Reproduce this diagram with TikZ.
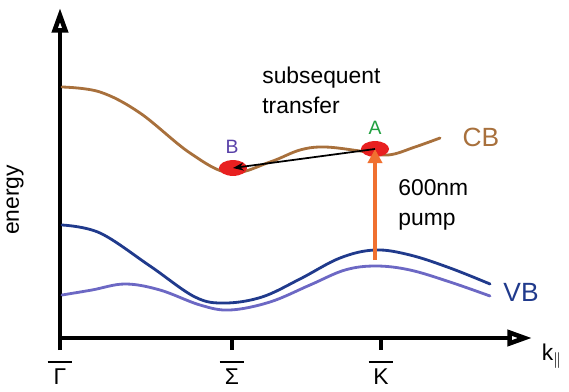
\documentclass[tikz,border=0pt]{standalone}
\usepackage{fontspec}
\setmainfont{Liberation Sans}
\usetikzlibrary{arrows.meta,positioning,shapes.geometric}

\definecolor{cbbrown}{RGB}{168,112,60}
\definecolor{vbdark}{RGB}{32,58,140}
\definecolor{vblight}{RGB}{108,104,196}
\definecolor{pumporange}{RGB}{240,112,48}
\definecolor{dotred}{RGB}{232,32,32}
\definecolor{lblgreen}{RGB}{32,160,64}
\definecolor{lblpurple}{RGB}{88,64,168}

\tikzset{
    axis/.style={line width=2.6pt,-{Triangle[length=14pt,width=9pt,open=false]}},
    band/.style={line width=1.6pt,line cap=round},
    txt/.style={font=\fontsize{13}{15}\selectfont,inner sep=0pt,align=left},
    bandlbl/.style={font=\fontsize{15}{17}\selectfont,inner sep=0pt},
    carrier/.style={ellipse,fill=dotred,minimum width=16pt,minimum height=9pt,inner sep=0pt}
}

\begin{document}
\begin{tikzpicture}[x=0.02cm,y=-0.02cm]
        \useasboundingbox (0,0) rectangle (569,392);
        % axes
        \draw[axis] (60,350) -- (60,8);
        \draw[axis] (58,338) -- (532,338);
        \foreach \x in {232,381} {
            \draw[line width=2.6pt] (\x,338) -- (\x,350);
        }
        \node[txt,rotate=90] (energy) at (15,200) {energy};
        \node[txt] (kpar) at (552,356) {k$_{\|}$};
        % tick labels with bars
        \node[txt] (gam) at (60,377) {Γ};
        \node[txt] (sig) at (232,377) {Σ};
        \node[txt] (kk) at (381,377) {K};
        \foreach \n in {gam,sig,kk} {
            \draw[line width=1.3pt] ([xshift=-7,yshift=4]\n.north) -- ([xshift=7,yshift=4]\n.north);
        }
        % bands
        \draw[band,cbbrown] plot[smooth,tension=0.6] coordinates {(62,87) (100,92) (140,113) (190,153) (230,173) (270,162) (300,150) (325,147) (360,151) (388,155) (415,147) (440,138)};
        \draw[band,vbdark] plot[smooth,tension=0.6] coordinates {(62,225) (100,233) (150,266) (195,297) (225,303) (262,297) (300,279) (340,258) (375,250) (410,255) (450,268) (490,284)};
        \draw[band,vblight] plot[smooth,tension=0.6] coordinates {(62,295) (92,290) (125,284) (160,290) (200,305) (230,310) (270,302) (310,285) (345,270) (376,266) (410,270) (450,282) (490,296)};
        \node[bandlbl,text=cbbrown] (cb) at (481,137) {CB};
        \node[bandlbl,text=vbdark] (vb) at (521,292) {VB};
        % carriers
        \node[carrier] (A) at (375,149) {};
        \node[carrier] (B) at (233,168) {};
        \node[txt,text=lblgreen,font=\fontsize{11}{12}\selectfont] (Alab) at (375,128) {A};
        \node[txt,text=lblpurple,font=\fontsize{11}{12}\selectfont] (Blab) at (232,147) {B};
        \coordinate (vbtop) at (375,260);
        \draw[pumporange,line width=2.2pt,-{Triangle[length=8pt,width=8pt]}] (vbtop) -- (A.center);
        \draw[line width=1pt,-{Stealth[length=6pt]}] (A.center) -- (B.center);
        % annotations
        \node[txt,anchor=west] (transfer) at (262,90) {subsequent\\[2pt]transfer};
        \node[txt,anchor=west] (pump) at (398,205) {600nm\\[2pt]pump};
    \end{tikzpicture}
\end{document}
